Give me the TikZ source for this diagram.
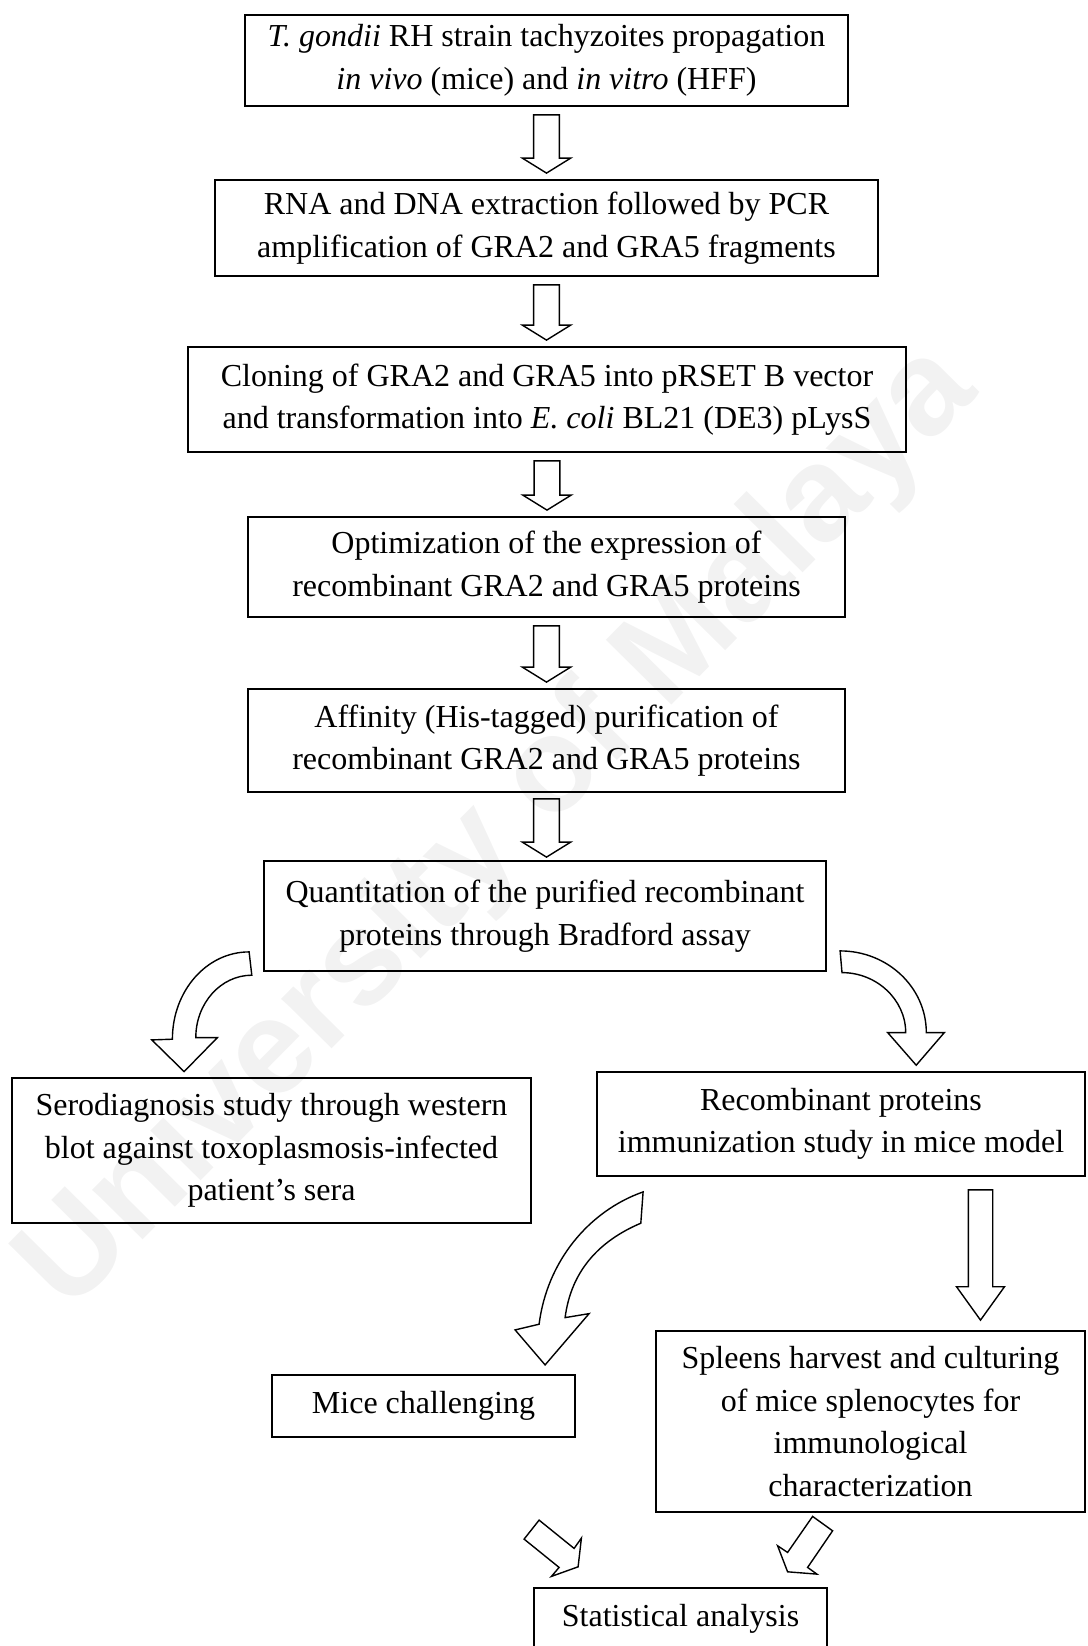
\documentclass[tikz,border=0pt]{standalone}
\usepackage{fontspec}
\setmainfont{Liberation Serif}
\newfontfamily\wmfont{Liberation Sans}
\usetikzlibrary{calc}
\tikzset{
  box/.style={draw, line width=1.8pt, inner sep=0pt, align=center,
    font=\fontsize{32}{42.5}\selectfont},
  blk/.style={draw, line width=1.4pt, line join=miter},
  wmark/.style={text=black!5, font=\wmfont\bfseries\fontsize{134}{134}\selectfont},
}
% vertical block arrow: #1 top centre, #2 tip, #3 shaft half width, #4 head half width, #5 head length
\newcommand{\vblk}[5]{%
  \draw[blk] let \p1=#1, \p2=#2 in
    (\x1-#3,\y1) -- (\x1-#3,\y2+#5) -- (\x1-#4,\y2+#5) -- (\x1,\y2)
    -- (\x1+#4,\y2+#5) -- (\x1+#3,\y2+#5) -- (\x1+#3,\y1) -- cycle;}
\begin{document}
\begin{tikzpicture}[x=1pt,y=-1pt]
\useasboundingbox (0,0) rectangle (1087,1646);
% watermark
\node[wmark, rotate=45.3] (wm) at (500,830) {University of Malaya};

% boxes
\node[box, minimum width=603pt, minimum height=91pt] (b1) at (546.5,60.5)
  {\textit{T. gondii} RH strain tachyzoites propagation\\ \textit{in vivo} (mice) and \textit{in vitro} (HFF)};
\node[box, minimum width=663pt, minimum height=96pt] (b2) at (546.5,228)
  {RNA and DNA extraction followed by PCR\\ amplification of GRA2 and GRA5 fragments};
\node[box, minimum width=718pt, minimum height=105pt] (b3) at (547,399.5)
  {Cloning of GRA2 and GRA5 into pRSET B vector\\ and transformation into \textit{E. coli} BL21 (DE3) pLysS};
\node[box, minimum width=597pt, minimum height=100pt] (b4) at (546.5,567)
  {Optimization of the expression of\\ recombinant GRA2 and GRA5 proteins};
\node[box, minimum width=597pt, minimum height=103pt] (b5) at (546.5,740.5)
  {Affinity (His-tagged) purification of\\ recombinant GRA2 and GRA5 proteins};
\node[box, minimum width=562pt, minimum height=110pt] (b6) at (545,916)
  {Quantitation of the purified recombinant\\ proteins through Bradford assay};
\node[box, minimum width=519pt, minimum height=145pt] (b7) at (271.5,1150.5)
  {Serodiagnosis study through western\\ blot against toxoplasmosis-infected\\ patient’s sera};
\node[box, minimum width=488pt, minimum height=104pt] (b8) at (841,1124)
  {Recombinant proteins\\ immunization study in mice model};
\node[box, minimum width=303pt, minimum height=62pt] (b9) at (423.5,1406)
  {Mice challenging};
\node[box, minimum width=429pt, minimum height=181pt] (b10) at (870.5,1421.5)
  {Spleens harvest and culturing\\ of mice splenocytes for\\ immunological\\ characterization};
\node[box, minimum width=293pt, minimum height=62pt] (b11) at (680.5,1619)
  {Statistical analysis};

% straight block arrows
\vblk{($(b1.south)+(0,8)$)}{($(b2.north)+(0,-6)$)}{12.85pt}{24.2pt}{15pt}
\vblk{($(b2.south)+(0,8)$)}{($(b3.north)+(0,-6)$)}{12.85pt}{24.2pt}{15pt}
\vblk{($(b3.south)+(0,8)$)}{($(b4.north)+(0,-6)$)}{12.85pt}{24.2pt}{15pt}
\vblk{($(b4.south)+(0,8)$)}{($(b5.north)+(0,-6)$)}{12.85pt}{24.2pt}{15pt}
\vblk{($(b5.south)+(0,6)$)}{($(b6.north)+(0,-3)$)}{12.85pt}{24.2pt}{15pt}
\vblk{($(b8.south)+(139.5,13)$)}{($(b10.north)+(0,-10)$)}{12.2pt}{24pt}{33.4pt}

% curved block arrows
\coordinate (Lt) at ($(b6.south west)+(-14,-20)$);
\draw[blk, shift={(Lt)}] (0,0) .. controls (-42.5,0) and (-76.7,39) .. (-76.7,87.3)
  -- (-97.3,88) -- (-65,119.7) -- (-31.7,85.7) -- (-53.3,85.7)
  .. controls (-53.3,51.2) and (-28.2,23.3) .. (2.7,23.3) -- cycle;

\coordinate (Rt) at ($(b6.south east)+(13.2,-21)$);
\draw[blk, shift={(Rt)}] (0,0) .. controls (47.5,0) and (86.2,36.4) .. (86.2,81.7)
  -- (104.2,81.7) -- (76.1,114.3) -- (47.6,81.7) -- (65.6,81.7)
  .. controls (65.6,49) and (36.8,21.7) .. (1.9,21.7) -- cycle;

\coordinate (Mt) at ($(b8.south west)+(47,15)$);
\draw[blk, shift={(Mt)}] (0,0) .. controls (-54,19) and (-96,69) .. (-104,132.3)
  -- (-128,138) -- (-98,173) -- (-54,121.7) -- (-78,125.7)
  .. controls (-72,79) and (-44,49) .. (-2.3,31.3) -- cycle;

% small arrows into the statistical analysis box
\draw[blk, shift={(b11.north west)}] (-9,-48) -- (6,-67) -- (41,-38.7) -- (48.3,-49)
  -- (45,-20.3) -- (18.3,-10.7) -- (26,-19.7) -- cycle;
\draw[blk, shift={(b11.north east)}] (-15.3,-70.7) -- (4.7,-56.3) -- (-20.3,-19.7)
  -- (-11,-13) -- (-40.3,-15.3) -- (-50.3,-41.3) -- (-40.3,-34.7) -- cycle;
\end{tikzpicture}
\end{document}
